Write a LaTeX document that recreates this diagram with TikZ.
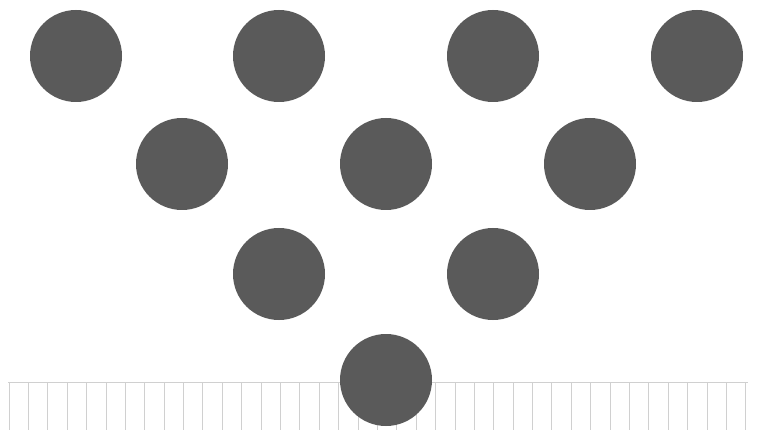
\documentclass[tikz,border=0pt]{standalone}
\begin{document}
\begin{tikzpicture}[x=1pt,y=-1pt,
  ball/.style={circle,fill=ballgray,draw=none,minimum size=92pt,inner sep=0pt},
  hatch/.style={draw=linegray,line width=0.9pt}]
\definecolor{ballgray}{HTML}{5A5A5A}
\definecolor{linegray}{HTML}{D0D0D0}
\useasboundingbox[fill=white] (0,0) rectangle (757,430);
% ground hatching
\draw[hatch] (8,382) -- (748,382);
\foreach \i in {0,...,38}{
  \draw[hatch] ({9+\i*19.39},382) -- ({9+\i*19.39},430);
}
% balls
\node[ball] (a1) at (76,56) {};
\node[ball] (a2) at (279,56) {};
\node[ball] (a3) at (493,56) {};
\node[ball] (a4) at (697,56) {};
\node[ball] (b1) at (182,164) {};
\node[ball] (b2) at (386,164) {};
\node[ball] (b3) at (590,164) {};
\node[ball] (c1) at (279,274) {};
\node[ball] (c2) at (493,274) {};
\node[ball] (d1) at (386,380) {};
\end{tikzpicture}
\end{document}
